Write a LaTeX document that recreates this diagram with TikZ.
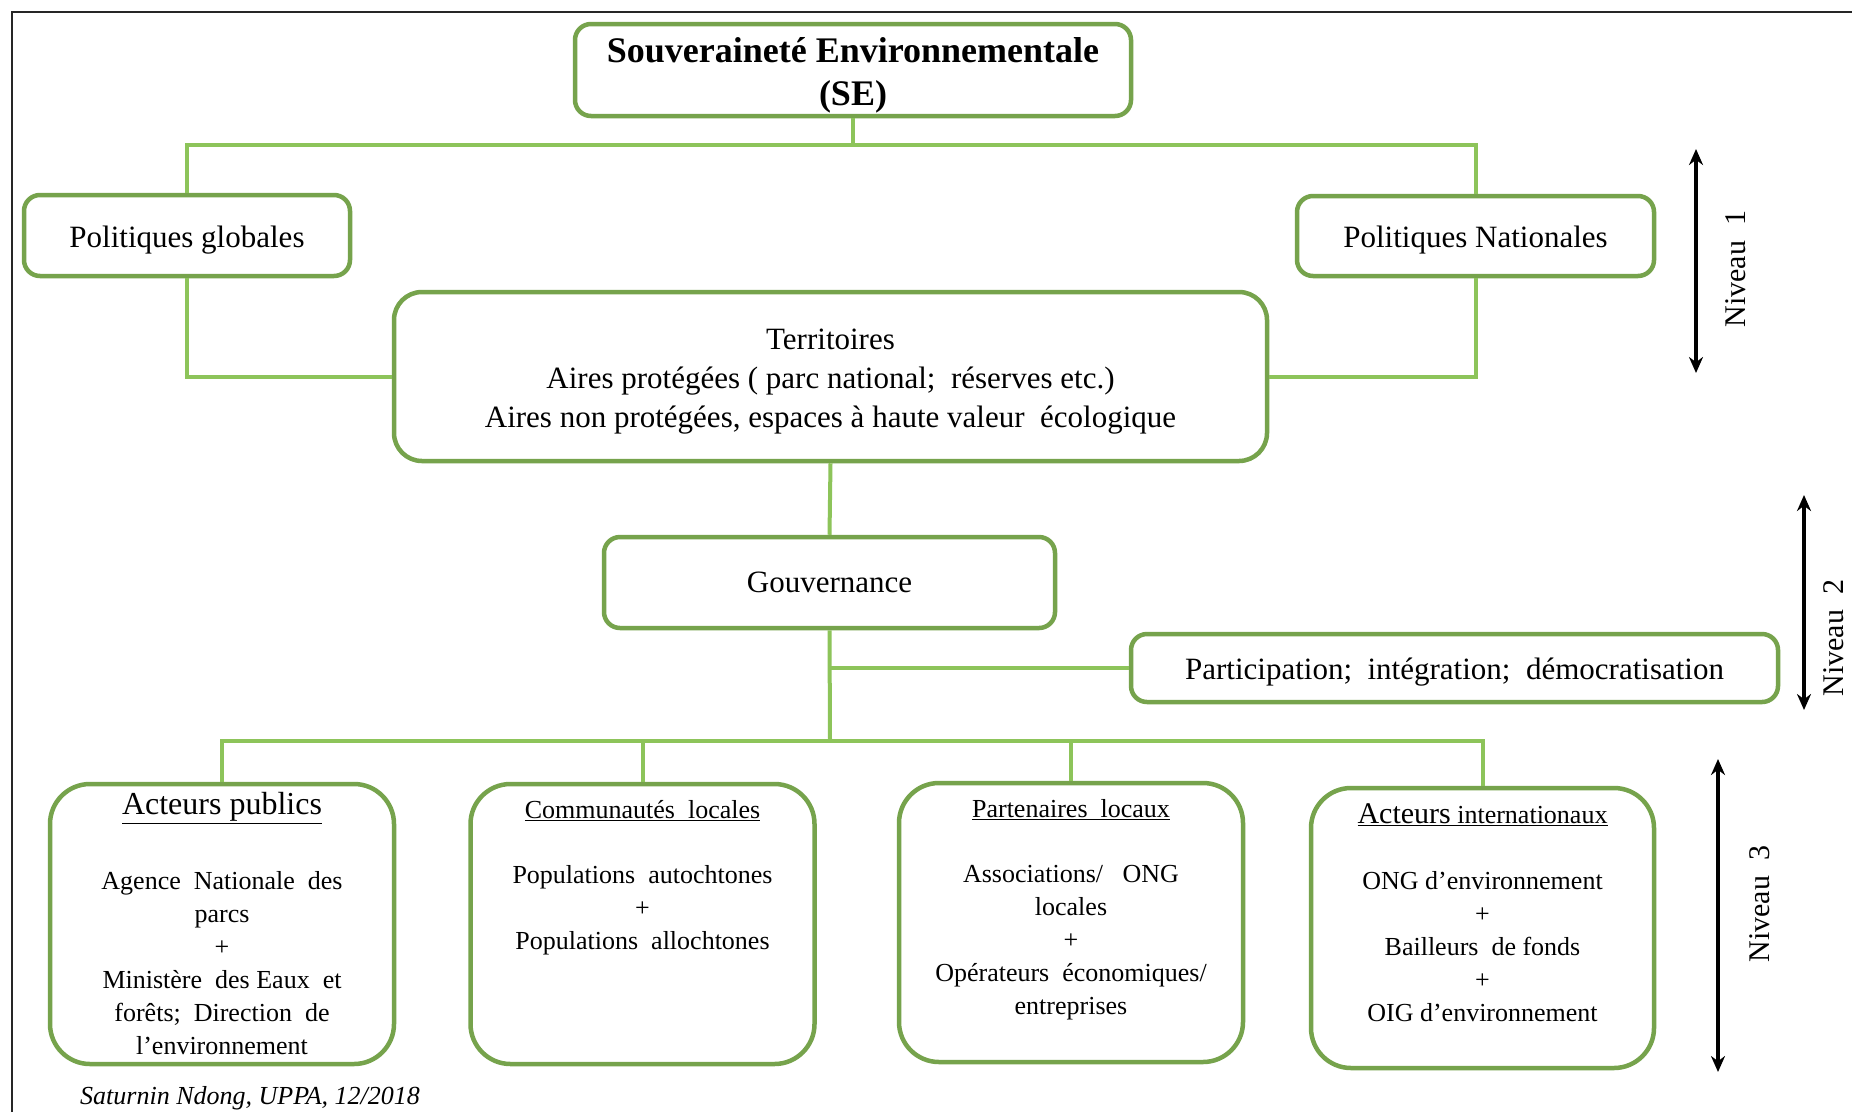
\documentclass[tikz,border=0pt]{standalone}
\usepackage{fontspec}
\setmainfont{Liberation Serif}
\usetikzlibrary{arrows.meta,calc}
\definecolor{boxgreen}{RGB}{118,163,76}
\definecolor{linegreen}{RGB}{141,196,90}
\tikzset{
  gbox/.style={draw=boxgreen, line width=4.5pt, rounded corners=16pt, fill=white, inner sep=0pt},
  bigbox/.style={draw=boxgreen, line width=4.5pt, rounded corners=40pt, fill=white, inner sep=0pt, minimum width=344pt, minimum height=280pt},
  txt/.style={align=center, inner sep=0pt, font=\fontsize{31}{39}\selectfont},
  conn/.style={draw=linegreen, line width=4pt},
  lvl/.style={line width=4pt, {Stealth[length=16pt,width=14pt]}-{Stealth[length=16pt,width=14pt]}},
  lvltxt/.style={rotate=90, font=\fontsize{30}{36}\selectfont},
  body/.style={align=center, font=\fontsize{26}{33}\selectfont, inner sep=0pt},
  ttl/.style={align=center, font=\fontsize{26}{33}\selectfont, inner sep=0pt}
}
\begin{document}
\begin{tikzpicture}[x=1pt,y=-1pt]
\useasboundingbox (0,0) rectangle (1852,1112);
\fill[white] (0,0) rectangle (1852,1112);
% frame
\draw[line width=2pt, black!85] (12,1112) -- (12,12) -- (1852,12);

% boxes
\node[gbox, minimum width=556pt, minimum height=92pt] (SE) at (853,70) {};
\node[gbox, minimum width=326pt, minimum height=81pt] (PG) at (187,235.5) {};
\node[gbox, minimum width=357pt, minimum height=80pt] (PN) at (1475.5,236) {};
\node[gbox, minimum width=873pt, minimum height=169pt, rounded corners=28pt] (Terr) at (830.5,376.5) {};
\node[gbox, minimum width=451pt, minimum height=91pt] (Gouv) at (829.5,582.5) {};
\node[gbox, minimum width=647pt, minimum height=68pt] (Part) at (1454.5,668) {};

\node[bigbox] (AP) at (222,924) {};
\node[bigbox] (CL) at (642.5,924) {};
\node[bigbox, minimum height=279pt] (PL) at (1071,922.5) {};
\node[bigbox, minimum width=343pt] (AI) at (1482.5,928) {};

% texts of upper boxes
\node[txt, font=\bfseries\fontsize{36}{43}\selectfont] (SEt) at ($(SE)+(0,5)$) {Souveraineté Environnementale\\(SE)};
\node[txt] (PGt) at ($(PG)+(0,5)$) {Politiques globales};
\node[txt] (PNt) at ($(PN)+(0,4)$) {Politiques Nationales};
\node[txt] (Terrt) at ($(Terr)+(0,5)$) {Territoires\\Aires protégées ( parc national;\ \ réserves etc.)\\Aires non protégées, espaces à haute valeur\ \ écologique};
\node[txt] (Gouvt) at (Gouv) {Gouvernance};
\node[txt] (Partt) at ($(Part)+(0,4)$) {Participation;\ \ intégration;\ \ démocratisation};

% texts of bottom boxes
\node[ttl, font=\fontsize{32}{38}\selectfont] (APt) at (222,808) {\underline{Acteurs publics}};
\node[body] (APb) at (222,963.5) {Agence\ \ Nationale\ \ des\\parcs\\+\\Ministère\ \ des Eaux\ \ et\\forêts;\ \ Direction\ \ de\\l’environnement};
\node[ttl] (CLt) at (642.5,811) {\underline{Communautés\ \ locales}};
\node[body] (CLb) at (642.5,910.5) {Populations\ \ autochtones\\+\\Populations\ \ allochtones};
\node[ttl] (PLt) at (1071,810) {\underline{Partenaires\ \ locaux}};
\node[body] (PLb) at (1071,942.5) {Associations/\ \ \ ONG\\locales\\+\\Opérateurs\ \ économiques/\\entreprises};
\node[ttl] (AIt) at (1482.5,815) {\underline{{\fontsize{30}{36}\selectfont Acteurs} internationaux}};
\node[body] (AIb) at (1482.5,947) {ONG d’environnement\\+\\Bailleurs\ \ de fonds\\+\\OIG\ d’environnement};

% connectors
\coordinate (bus1) at (853,145);
\coordinate (bus2) at (830,741);
\draw[conn] (SE.south) -- (bus1);
\draw[conn] (PG.north) |- (bus1) -| (PN.north);
\draw[conn] (PG.south) |- (Terr.west);
\draw[conn] (PN.south) |- (Terr.east);
\draw[conn] (Terr.south) -- (Gouv.north);
\draw[conn] (Gouv.south) -- (bus2);
\draw[conn] (Part.west) -- (Part.west -| Gouv.south);
\draw[conn] (AP.north) |- (bus2) -| (AI.north);
\draw[conn] (CL.north) -- (CL.north |- bus2);
\draw[conn] (PL.north) -- (PL.north |- bus2);

% level arrows
\coordinate (n1a) at (1696,149);
\coordinate (n1b) at (1696,373);
\coordinate (n2a) at (1804,495);
\coordinate (n2b) at (1804,710);
\coordinate (n3a) at (1718,759);
\coordinate (n3b) at (1718,1072);
\draw[lvl] (n1a) -- (n1b);
\draw[lvl] (n2a) -- (n2b);
\draw[lvl] (n3a) -- (n3b);
\node[lvltxt] (N1) at (1736,269) {Niveau\ \ 1};
\node[lvltxt] (N2) at (1834,638) {Niveau\ \ 2};
\node[lvltxt] (N3) at (1760,904) {Niveau\ \ 3};

% footer
\node[anchor=west, inner sep=0pt, font=\itshape\fontsize{26}{30}\selectfont] (foot) at (80,1098) {Saturnin Ndong, UPPA, 12/2018};
\end{tikzpicture}
\end{document}
